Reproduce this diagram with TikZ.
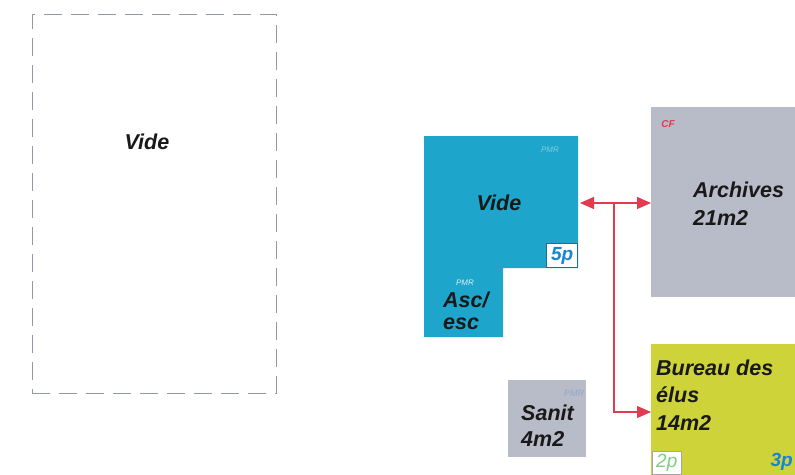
\documentclass[tikz,border=0pt]{standalone}
\usepackage{fontspec}
\setmainfont{Liberation Sans}
\usetikzlibrary{arrows.meta}
\definecolor{roomblue}{HTML}{1DA5CB}
\definecolor{roomgrey}{HTML}{B8BBC8}
\definecolor{roomyellow}{HTML}{CFD33A}
\definecolor{linkred}{HTML}{E23A4E}
\definecolor{dashgrey}{HTML}{9298A8}
\definecolor{pmrblue}{HTML}{8FA8CC}
\tikzset{
  lbl/.style={font=\fontsize{21.5}{24}\selectfont\bfseries\itshape, text=black!90, inner sep=0pt, anchor=base west},
  tiny/.style={font=\fontsize{8}{9}\selectfont\itshape, inner sep=0pt},
  tag/.style={draw=#1, fill=white, line width=0.6pt, inner sep=0pt, font=\fontsize{19}{20}\selectfont\itshape},
  link/.style={draw=linkred, line width=1.3pt},
  tip/.style={-{Triangle[length=14pt,width=12pt]}},
}
\begin{document}
\begin{tikzpicture}[x=1pt,y=-1pt]
\useasboundingbox (0,0) rectangle (795,474);
\clip (0,0) rectangle (795,474);
% dashed empty zone
\node[draw=dashgrey, line width=0.8pt, dash pattern=on 18pt off 9pt, minimum width=244pt, minimum height=379pt, inner sep=0pt, anchor=north west] (zone) at (32,14) {};
\node[lbl, anchor=center] (zvide) at (147,142) {Vide};
% blue L-shaped room
\fill[roomblue] (424,136) -- (578,136) -- (578,268) -- (503,268) -- (503,337) -- (424,337) -- cycle;
\coordinate (blueE) at (580,203);
\node[lbl, anchor=center] (bvide) at (499,203) {Vide};
\node[tiny, text=roomblue!55!white] (bpmr) at (550,150) {PMR};
\node[tiny, text=white!85!roomblue] (apmr) at (465,283) {PMR};
\node[lbl] (asc) at (443,307) {Asc/};
\node[lbl] (esc) at (443,329) {esc};
\node[tag=roomblue!70!black, text=roomblue!80!blue, minimum width=31pt, minimum height=24pt, anchor=south east] (p5) at (578,268) {\bfseries 5p};
% archives
\node[fill=roomgrey, minimum width=170pt, minimum height=190pt, inner sep=0pt, anchor=north west] (arch) at (651,107) {};
\node[font=\fontsize{10}{10}\selectfont\bfseries\itshape, text=linkred, inner sep=0pt] (cf) at (668,124) {CF};
\node[lbl] (archt) at (693,197) {Archives};
\node[lbl] (archm) at (693,225) {21m2};
% bureau des elus
\node[fill=roomyellow, minimum width=170pt, minimum height=140pt, inner sep=0pt, anchor=north west] (bur) at (651,344) {};
\node[lbl] (bur1) at (656,375) {Bureau des};
\node[lbl] (bur2) at (656,402) {élus};
\node[lbl] (bur3) at (656,430) {14m2};
\node[tag=black!35, text=green!45!gray!70!white, minimum width=29pt, minimum height=23pt, anchor=north west] (p2) at (652,451) {2p};
\node[font=\fontsize{19}{20}\selectfont\bfseries\itshape, text=roomblue!80!blue, inner sep=0pt, anchor=east] (p3) at (793,462) {3p};
% sanitaires
\node[fill=roomgrey, minimum width=78pt, minimum height=77pt, inner sep=0pt, anchor=north west] (san) at (508,380) {};
\node[font=\fontsize{9}{10}\selectfont\itshape, inner sep=0pt, text=pmrblue] (spmr) at (574,393) {PMR};
\node[lbl] (san1) at (521,420) {Sanit};
\node[lbl] (san2) at (521,446) {4m2};
% connectors
\coordinate (jn) at (614,203);
\coordinate (bend) at (614,412);
\draw[link, {Triangle[length=14pt,width=12pt]}-{Triangle[length=14pt,width=12pt]}] (blueE) -- (arch.west |- blueE);
\draw[link, line width=1.1pt, tip] (jn) -- (bend) -- (bur.west |- bend);
\end{tikzpicture}
\end{document}
